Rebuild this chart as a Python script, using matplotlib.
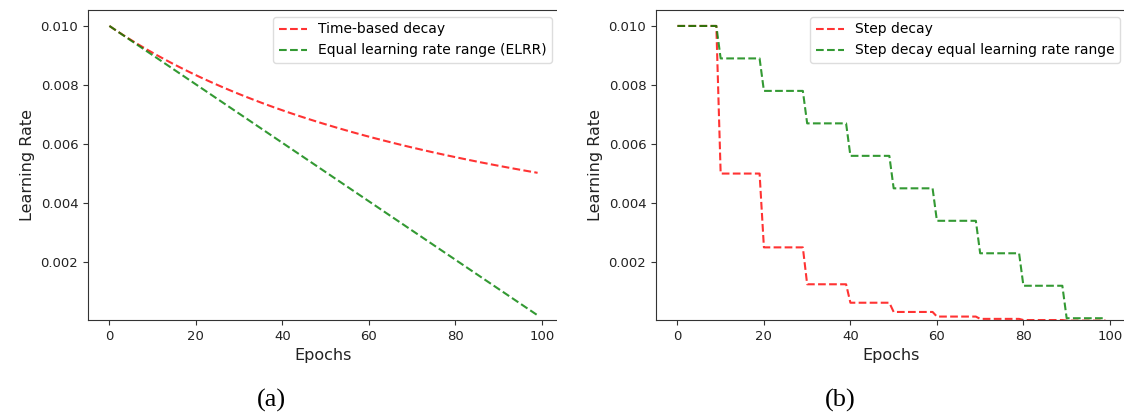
import numpy as np
import matplotlib
matplotlib.use("Agg")
import matplotlib.pyplot as plt
from matplotlib.patches import Rectangle

# ── Data ──────────────────────────────────────────────────────────
epochs = list(range(100))

time_based = [
    0.010000, 0.009901, 0.009804, 0.009709, 0.009615, 0.009524, 0.009434, 0.009346, 0.009259, 0.009174,
    0.009091, 0.009009, 0.008929, 0.008850, 0.008772, 0.008696, 0.008621, 0.008547, 0.008475, 0.008403,
    0.008333, 0.008264, 0.008197, 0.008130, 0.008065, 0.008000, 0.007937, 0.007874, 0.007813, 0.007752,
    0.007692, 0.007634, 0.007576, 0.007519, 0.007463, 0.007407, 0.007353, 0.007299, 0.007246, 0.007194,
    0.007143, 0.007092, 0.007042, 0.006993, 0.006944, 0.006897, 0.006849, 0.006803, 0.006757, 0.006711,
    0.006667, 0.006623, 0.006579, 0.006536, 0.006494, 0.006452, 0.006410, 0.006369, 0.006329, 0.006289,
    0.006250, 0.006211, 0.006173, 0.006135, 0.006098, 0.006061, 0.006024, 0.005988, 0.005952, 0.005917,
    0.005882, 0.005848, 0.005814, 0.005780, 0.005747, 0.005714, 0.005682, 0.005650, 0.005618, 0.005587,
    0.005556, 0.005525, 0.005495, 0.005464, 0.005435, 0.005405, 0.005376, 0.005348, 0.005319, 0.005291,
    0.005263, 0.005236, 0.005208, 0.005181, 0.005155, 0.005128, 0.005102, 0.005076, 0.005051, 0.005025,
]

elrr = [
    0.010000, 0.009901, 0.009802, 0.009703, 0.009604, 0.009505, 0.009406, 0.009307, 0.009208, 0.009109,
    0.009010, 0.008911, 0.008812, 0.008713, 0.008614, 0.008515, 0.008416, 0.008317, 0.008218, 0.008119,
    0.008020, 0.007921, 0.007822, 0.007723, 0.007624, 0.007525, 0.007426, 0.007327, 0.007228, 0.007129,
    0.007030, 0.006931, 0.006832, 0.006733, 0.006634, 0.006535, 0.006436, 0.006337, 0.006238, 0.006139,
    0.006040, 0.005941, 0.005842, 0.005743, 0.005644, 0.005545, 0.005446, 0.005347, 0.005248, 0.005149,
    0.005050, 0.004951, 0.004852, 0.004753, 0.004654, 0.004555, 0.004456, 0.004357, 0.004258, 0.004159,
    0.004060, 0.003961, 0.003862, 0.003763, 0.003664, 0.003565, 0.003466, 0.003367, 0.003268, 0.003169,
    0.003070, 0.002971, 0.002872, 0.002773, 0.002674, 0.002575, 0.002476, 0.002377, 0.002278, 0.002179,
    0.002080, 0.001981, 0.001882, 0.001783, 0.001684, 0.001585, 0.001486, 0.001387, 0.001288, 0.001189,
    0.001090, 0.000991, 0.000892, 0.000793, 0.000694, 0.000595, 0.000496, 0.000397, 0.000298, 0.000199,
]

# step schedules: each level is held for 10 epochs
step_len = 10
step_levels = [0.01, 0.005, 0.0025, 0.00125, 0.000625, 0.0003125,
               0.00015625, 0.000078, 0.000039, 0.0000195]
step_elrr_levels = [0.0100, 0.0089, 0.0078, 0.0067, 0.0056, 0.0045,
                    0.0034, 0.0023, 0.0012, 0.0001]

step_decay = np.repeat(step_levels, step_len)
step_elrr = np.repeat(step_elrr_levels, step_len)

yticks = [0.002, 0.004, 0.006, 0.008, 0.010]

# ── Figure ────────────────────────────────────────────────────────
W, H = 1129, 413
fig = plt.figure(figsize=(W / 100, H / 100), dpi=100)

def px_axes(x0, x1, top, bottom):
    return fig.add_axes([x0 / W, 1 - bottom / H, (x1 - x0) / W, (bottom - top) / H])

ax1 = px_axes(88, 559, 10, 320)
ax2 = px_axes(656, 1127, 10, 320)

ax1.plot(epochs, time_based, "--", color="red", alpha=0.8, label="Time-based decay")
ax1.plot(epochs, elrr, "--", color="green", alpha=0.8, label="Equal learning rate range (ELRR)")

ax2.plot(epochs, step_decay, "--", color="red", alpha=0.8, label="Step decay")
ax2.plot(epochs, step_elrr, "--", color="green", alpha=0.8,
         label="Step decay equal learning rate range")

for ax in (ax1, ax2):
    ax.set_xlim(-4.95, 103.95)
    ax.set_ylim(0.00004, 0.01054)
    ax.set_xticks([0, 20, 40, 60, 80, 100])
    ax.set_yticks(yticks)
    ax.set_yticklabels([f"{t:.3f}" for t in yticks])
    ax.tick_params(labelsize=9.5, colors="#333333", labelcolor="#222222")
    ax.set_xlabel("Epochs", fontsize=11.5, color="#222222")
    ax.set_ylabel("Learning Rate", fontsize=11.5, color="#222222")
    for s in ax.spines.values():
        s.set_color("#333333")
    ax.legend(loc="upper right", fontsize=10, framealpha=1, edgecolor="#dddddd")

# the source panels were cropped on their right side
fig.add_artist(Rectangle((557 / W, 0), 16 / W, 1, transform=fig.transFigure,
                         facecolor="white", edgecolor="none", zorder=10))
fig.add_artist(Rectangle((1124 / W, 0), 10 / W, 1, transform=fig.transFigure,
                         facecolor="white", edgecolor="none", zorder=10))

fig.text(271 / W, 1 - 400 / H, "(a)", ha="center", va="center",
         fontsize=19, family="Liberation Serif")
fig.text(840 / W, 1 - 400 / H, "(b)", ha="center", va="center",
         fontsize=19, family="Liberation Serif")

fig.savefig("out.png", dpi=100)
